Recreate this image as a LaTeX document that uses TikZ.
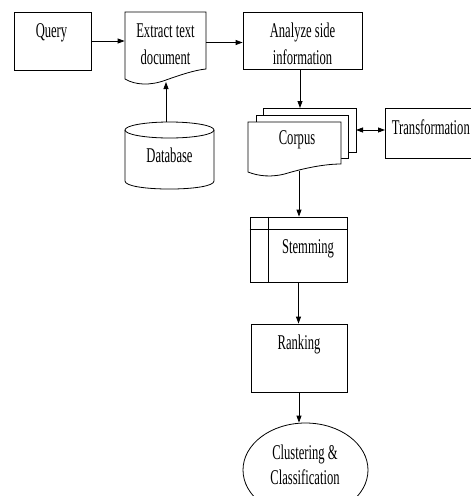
\documentclass[tikz,border=0pt]{standalone}
\usepackage{fontspec}
\setmainfont{Liberation Serif}[FakeStretch=0.6]
\usetikzlibrary{arrows.meta,shapes.geometric}
\begin{document}
\begin{tikzpicture}[x=1pt,y=-1pt,
  line width=0.8pt,
  lbl/.style={anchor=base,inner sep=0pt,font=\fontsize{21}{25}\selectfont},
  boxshape/.style={draw,rectangle,inner sep=0pt},
  ghost/.style={inner sep=0pt},
  arr/.style={-{Triangle[length=7pt,width=5pt]}},
  darr/.style={{Triangle[length=7pt,width=5pt]}-{Triangle[length=7pt,width=5pt]}}]
\clip (0,0) rectangle (471,496);
\useasboundingbox (0,0) rectangle (471,496);
\fill[white] (0,0) rectangle (471,496);

% Query
\node[boxshape, minimum width=77pt, minimum height=58pt] (query) at (52.5,41) {};
% Extract text document
\draw (125,12) -- (206,12) -- (206,69) .. controls (195,70) and (180,75) .. (166,80)
      .. controls (150,86) and (135,85) .. (125,79) -- cycle;
\node[ghost, minimum width=81pt, minimum height=58pt] (extract) at (165.5,41) {};
\coordinate (extractbot) at (166,82);
% Analyze
\node[boxshape, minimum width=119pt, minimum height=57pt] (analyze) at (302.5,40.5) {};
% Database
\draw (169.5,130) ellipse [x radius=44.5, y radius=8];
\draw (125,130) -- (125,181) .. controls (125,191.7) and (214,191.7) .. (214,181) -- (214,130);
\node[ghost, minimum width=89pt, minimum height=67pt] (db) at (169.5,155.5) {};
% Corpus (multi-document)
\draw[fill=white] (263,108) rectangle (356,152);
\draw[fill=white] (256,115) rectangle (348,158);
\draw[fill=white] (248,122) -- (341,122) -- (341,164) .. controls (325,164) and (305,168) .. (288,173)
      .. controls (272,178) and (258,176) .. (248,172) -- cycle;
\node[ghost, minimum width=108pt, minimum height=66pt] (corpus) at (302,141) {};
\coordinate (corpustop) at (300,108);
\coordinate (corpusR) at (356,130);
\coordinate (corpusbot) at (299,171);
% Transformation
\node[boxshape, minimum width=100pt, minimum height=50pt, anchor=west] (trans) at (385,133) {};
% Stemming
\node[boxshape, minimum width=97pt, minimum height=65pt] (stem) at (298.5,249.5) {};
\draw (stem.north west) ++(0,13) -- ++(97,0);
\draw ([xshift=19pt]stem.north west) -- ([xshift=19pt]stem.south west);
% Ranking
\node[boxshape, minimum width=96pt, minimum height=68pt] (rank) at (299,358) {};
% Clustering
\node[draw, ellipse, minimum width=125pt, minimum height=94pt, inner sep=0pt] (clus) at (305.5,470) {};

% Labels
\node[lbl] (tquery) at (51.5,37) {Query};
\node[lbl] (textract1) at (165.5,37) {Extract text};
\node[lbl] (textract2) at (165.5,64) {document};
\node[lbl] (tanalyze1) at (302.5,37) {Analyze side};
\node[lbl] (tanalyze2) at (302.5,64) {information};
\node[lbl] (tdb) at (169.5,162) {Database};
\node[lbl] (tcorpus) at (297,144) {Corpus};
\node[lbl, anchor=base west] (ttrans) at (391.5,134) {Transformation};
\node[lbl] (tstem) at (308,253) {Stemming};
\node[lbl] (trank) at (299,349) {Ranking};
\node[lbl] (tclus1) at (305,459) {Clustering \&};
\node[lbl] (tclus2) at (305,484) {Classification};

% Connectors
\draw[arr] (query.east) -- (extract.west);
\draw[arr] ([yshift=-1.5pt]extract.east) -- ([yshift=-1.5pt]extract.east -| analyze.west);
\draw[arr] (extractbot |- db.north) -- (extractbot);
\draw[arr] (analyze.south -| corpustop) -- (corpustop);
\draw[darr] (corpusR) -- (trans.west |- corpusR);
\draw[arr] (corpusbot) -- (corpusbot |- stem.north);
\draw[arr] (stem.south) -- (stem.south |- rank.north);
\draw[arr] (rank.south) -- (rank.south |- clus.north);
\end{tikzpicture}
\end{document}
